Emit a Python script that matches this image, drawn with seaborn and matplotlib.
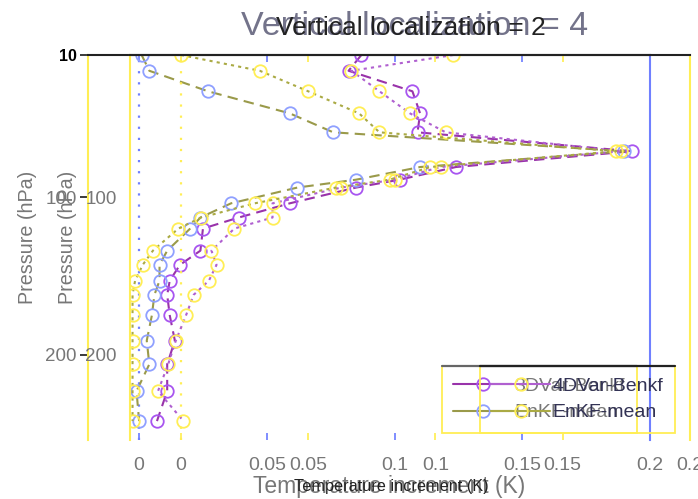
import matplotlib
matplotlib.use("Agg")
import matplotlib.pyplot as plt
import seaborn as sns
import pandas as pd
from matplotlib.lines import Line2D

# ---------------- data ----------------
pressure = [10, 20, 33, 47, 59, 71, 81, 89, 94, 104, 113, 120, 134, 143, 153, 162, 175, 191, 206, 223, 242]

loc2_3dvar = [0.087, 0.082, 0.107, 0.110, 0.109, 0.193, 0.124, 0.102, 0.085, 0.059, 0.039,
              0.025, 0.024, 0.016, 0.012, 0.011, 0.012, 0.014, 0.011, 0.011, 0.007]
loc2_enkf = [0.001, 0.004, 0.027, 0.059, 0.076, 0.190, 0.110, 0.085, 0.062, 0.036, 0.024,
             0.020, 0.011, 0.008, 0.008, 0.006, 0.005, 0.003, 0.004, -0.001, 0.000]
loc4_3dvar = [0.107, 0.067, 0.078, 0.090, 0.104, 0.173, 0.102, 0.084, 0.063, 0.036, 0.036,
              0.021, 0.012, 0.014, 0.011, 0.005, 0.002, -0.002, -0.005, -0.009, 0.001]
loc4_enkf = [0.000, 0.031, 0.050, 0.070, 0.078, 0.171, 0.098, 0.082, 0.061, 0.029, 0.008,
             -0.001, -0.011, -0.015, -0.018, -0.019, -0.019, -0.019, -0.019, -0.019, -0.019]

labels_loc2 = ["3DVar-Benkf", "EnKF-mean"]
labels_loc4 = ["4DVar-Benkf", "EnKF-mean"]
titles = ["Vertical localization = 2", "Vertical localization = 4"]
xticks = [0, 0.05, 0.1, 0.15, 0.2]
xtick_labels = ["0", "0.05", "0.1", "0.15", "0.2"]
yticks_a = [10, 100, 200]
yticks_b = [100, 200]

df2 = pd.DataFrame({"pressure": pressure, "a": loc2_3dvar, "b": loc2_enkf})
df4 = pd.DataFrame({"pressure": pressure, "a": loc4_3dvar, "b": loc4_enkf})

# ---------------- style ----------------
sns.set_theme(style="white")
plt.rcParams["font.family"] = ["Liberation Sans", "DejaVu Sans"]

W, H = 698, 499
fig = plt.figure(figsize=(W / 100, H / 100), dpi=100)


def rect(l, r, t, b):
    return [l / W, 1 - b / H, (r - l) / W, (b - t) / H]


YEL = "#ffee55"
BLUE = "#7080ff"
PURP = "#9933aa"
PURP_M = "#a855f0"
OLIVE = "#9a9a4a"
GRAY = "#777777"

axA = fig.add_axes(rect(88, 650, 55, 440))
axB = fig.add_axes(rect(130, 690, 55, 440))

for ax in (axA, axB):
    ax.set_facecolor("none")
    ax.set_xlim(-0.02, 0.2)
    ax.set_ylim(254, 10)

# zero reference lines
axA.axvline(0, color=BLUE, ls=(0, (1, 4)), lw=1.6, zorder=1)
axB.axvline(0, color=YEL, ls=(0, (1, 4)), lw=1.6, zorder=1)

common = dict(orient="y", sort=False, estimator=None, markersize=9,
              markerfacecolor="none", markeredgewidth=1.3, marker="o", lw=1.5)

sns.lineplot(data=df2, x="a", y="pressure", ax=axA, color=PURP, linestyle=(0, (5, 3)),
             markeredgecolor=PURP_M, label=labels_loc2[0], **common)
sns.lineplot(data=df2, x="b", y="pressure", ax=axA, color=OLIVE, linestyle=(0, (5, 3)),
             markeredgecolor="#8fa0ff", label=labels_loc2[1], **common)
sns.lineplot(data=df4, x="a", y="pressure", ax=axB, color="#b060d0", linestyle=(0, (1.5, 2)),
             markeredgecolor=YEL, label=labels_loc4[0], **common)
sns.lineplot(data=df4, x="b", y="pressure", ax=axB, color="#aaaa44", linestyle=(0, (1.5, 2)),
             markeredgecolor=YEL, label=labels_loc4[1], **common)

# spines
for ax, lc, rc in ((axA, YEL, BLUE), (axB, YEL, YEL)):
    ax.spines["left"].set_color(lc)
    ax.spines["right"].set_color(rc)
    ax.spines["left"].set_linewidth(1.5)
    ax.spines["right"].set_linewidth(1.5)
    ax.spines["top"].set_color("#222222")
    ax.spines["top"].set_linewidth(1.5)
    ax.spines["bottom"].set_visible(False)

# ticks
axA.set_xticks(xticks)
axA.set_xticklabels(xtick_labels)
axB.set_xticks(xticks)
axB.set_xticklabels(xtick_labels)
axA.tick_params(axis="x", direction="in", length=5, colors=BLUE, labelcolor=GRAY,
                labelsize=14, pad=12, top=True, bottom=True)
axB.tick_params(axis="x", direction="in", length=5, colors=YEL, labelcolor=GRAY,
                labelsize=14, pad=12, top=True, bottom=True)

axA.set_yticks(yticks_a)
axA.set_yticklabels([str(v) for v in yticks_a])
axA.tick_params(axis="y", direction="out", length=5.5, colors="#222222", labelcolor=GRAY,
                labelsize=13.5, pad=2.5, left=True)
axA.get_yticklabels()[0].set_fontweight("bold")
axA.get_yticklabels()[0].set_color("black")
axA.get_yticklabels()[0].set_fontsize(11.5)

axB.set_yticks(yticks_b)
axB.set_yticklabels([str(v) for v in yticks_b])
axB.tick_params(axis="y", length=0, labelcolor=GRAY, labelsize=13.5, pad=9.5, left=True)

# labels
axA.set_ylabel("Pressure (hPa)", fontsize=14.2, color=GRAY)
axB.set_ylabel("Pressure (hPa)", fontsize=14.2, color=GRAY)
axA.yaxis.set_label_coords(-0.09, 0.527)
axB.yaxis.set_label_coords(-0.094, 0.527)
axA.set_xlabel("")
axB.set_xlabel("")
fig.text(389 / W, 1 - 486 / H, "Temperature increment (K)", fontsize=16.5, color=GRAY,
         ha="center", va="center")
fig.text(391 / W, 1 - 486 / H, "Temperature increment (K)", fontsize=11.7, color="#222222",
         ha="center", va="center")

# titles
fig.text(415 / W, 1 - 35 / H, titles[1], fontsize=24.5, color="#73738a",
         ha="center", va="baseline")
fig.text(411 / W, 1 - 35 / H, titles[0], fontsize=19, color="#222222",
         ha="center", va="baseline")

# legends
legkw = dict(loc="lower right", bbox_transform=fig.transFigure, fontsize=14,
             handlelength=3.0, handletextpad=0.15, borderpad=0.6, labelspacing=0.45,
             borderaxespad=0, fancybox=False, facecolor="none", framealpha=1)
legA = axA.legend(bbox_to_anchor=(637 / W, 1 - 433 / H), **legkw)
legB = axB.legend(bbox_to_anchor=(675 / W, 1 - 433 / H), **legkw)
for leg, tc in ((legA, GRAY), (legB, "#333355")):
    leg.get_frame().set_edgecolor(YEL)
    leg.get_frame().set_linewidth(1.3)
    for t in leg.get_texts():
        t.set_color(tc)
for h in legA.legend_handles:
    h.set_linestyle("-")
for h in legB.legend_handles:
    h.set_linestyle("-")

# darker top edges of the legend boxes
fig.canvas.draw()
inv = fig.transFigure.inverted()
for leg, c in ((legA, "#666666"), (legB, "#222222")):
    bb = leg.get_frame().get_window_extent().transformed(inv)
    fig.add_artist(Line2D([bb.x0, bb.x1], [bb.y1, bb.y1], color=c, lw=1.6,
                          transform=fig.transFigure))

fig.savefig("out.png", dpi=100)
